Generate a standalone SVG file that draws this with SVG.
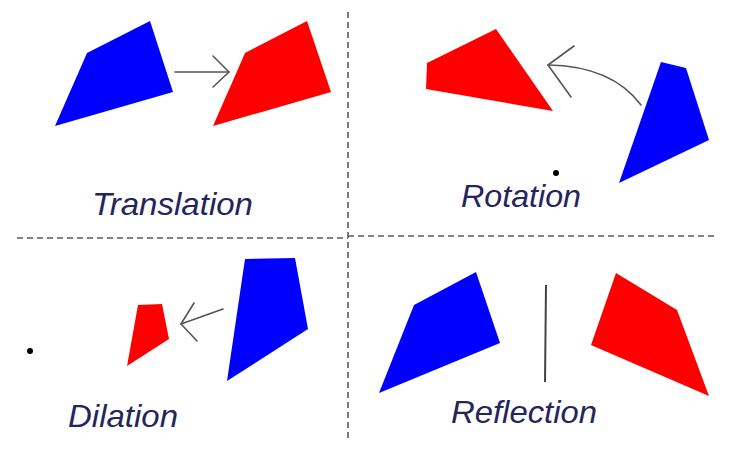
<svg xmlns="http://www.w3.org/2000/svg" width="748" height="454" viewBox="0 0 748 454">
<style>
.blue{fill:#0000ff;}
.red{fill:#ff0000;}
.lbl{font-family:"Liberation Sans",Arial,sans-serif;font-style:italic;font-size:32px;fill:#25255e;}
.div{stroke:#5a5a5a;stroke-width:1.6;stroke-dasharray:6,4;fill:none;}
.arr{stroke:#555555;stroke-width:1.6;fill:none;stroke-linecap:round;stroke-linejoin:round;}
.dot{fill:#000000;}
</style>
<rect width="748" height="454" fill="#ffffff"/>
<g id="dividers">
<line class="div" x1="348" y1="12" x2="348" y2="440"/>
<line class="div" x1="17" y1="238" x2="348" y2="238"/>
<line class="div" x1="348" y1="236" x2="718" y2="236"/>
</g>
<g id="translation-original"><polygon class="blue" points="87,53 150,21 173,92 55,126"/></g>
<g id="translation-image"><polygon class="red" points="245,53 307,21 331,92 213,126"/></g>
<g id="rotation-image"><polygon class="red" points="427,63 496,29 553,111 426,89"/></g>
<g id="rotation-original"><polygon class="blue" points="661,62 686,68 709,140 619,183"/></g>
<g id="rotation-center"><circle class="dot" cx="556" cy="173" r="3"/></g>
<g id="dilation-original"><polygon class="blue" points="245,259 295,258 308,329 227,381"/></g>
<g id="dilation-image"><polygon class="red" points="138,305 162,304 169,339 127,366"/></g>
<g id="dilation-center"><circle class="dot" cx="30" cy="351" r="3"/></g>
<g id="reflection-original"><polygon class="blue" points="414,305 476,272 500,343 379,393"/></g>
<g id="reflection-image"><polygon class="red" points="616,273 677,310 709,396 591,345"/></g>
<g id="mirror-line"><line x1="546" y1="285" x2="545" y2="382" stroke="#444444" stroke-width="2"/></g>
<g id="connectors">
<line class="arr" x1="175" y1="72" x2="229" y2="72"/>
<polyline class="arr" points="213,56 229,72 213,87"/>
<path class="arr" d="M641,105 Q612,66 548,65"/>
<polyline class="arr" points="574,46 548,65 571,97"/>
<line class="arr" x1="223" y1="309" x2="181" y2="324"/>
<polyline class="arr" points="194,303 181,324 197,341"/>
</g>
<g id="labels">
<text class="lbl" x="92" y="215" textLength="161" lengthAdjust="spacingAndGlyphs">Translation</text>
<text class="lbl" x="461" y="207" textLength="120" lengthAdjust="spacingAndGlyphs">Rotation</text>
<text class="lbl" x="68" y="427" textLength="110" lengthAdjust="spacingAndGlyphs">Dilation</text>
<text class="lbl" x="451" y="423" textLength="146" lengthAdjust="spacingAndGlyphs">Reflection</text>
</g>
</svg>
